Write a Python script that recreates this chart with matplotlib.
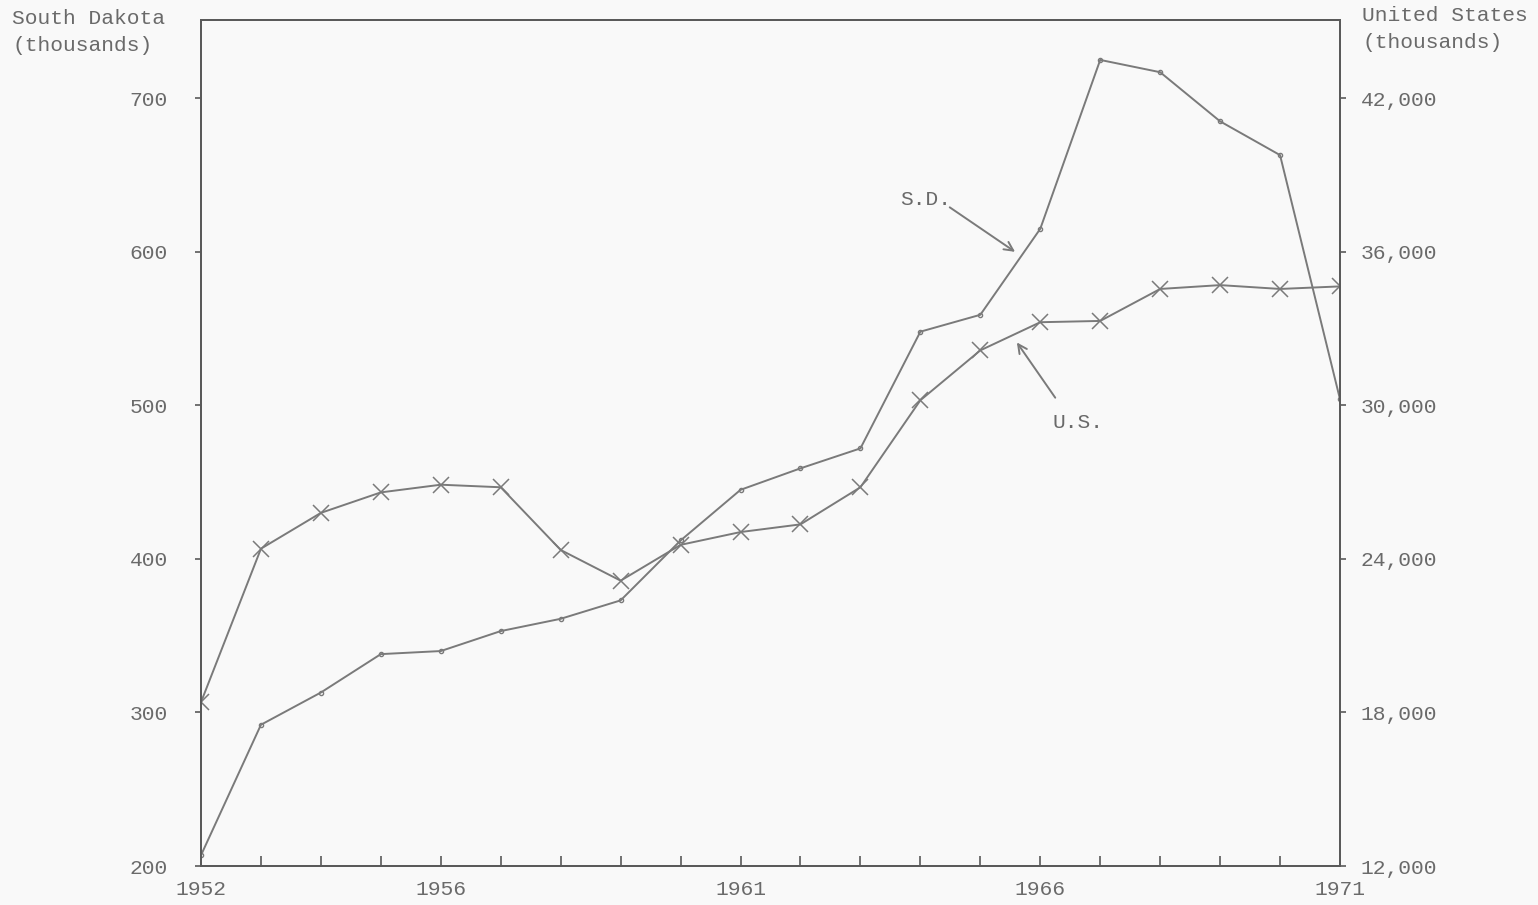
import matplotlib
matplotlib.use("Agg")
import matplotlib.pyplot as plt

years = list(range(1952, 1972))
sd_values = [207, 292, 313, 338, 340, 353, 361, 373, 412, 445, 459, 472,
             548, 559, 615, 725, 717, 685, 663, 504]
us_values = [18400, 24400, 25800, 26600, 26900, 26800, 24350, 23150, 24550,
             25050, 25350, 26800, 30200, 32150, 33250, 33300, 34550, 34700,
             34550, 34650]
left_ticks = [200, 300, 400, 500, 600, 700]
right_ticks = [12000, 18000, 24000, 30000, 36000, 42000]
right_labels = ["12,000", "18,000", "24,000", "30,000", "36,000", "42,000"]
x_label_years = [1952, 1956, 1961, 1966, 1971]

FONT = "Liberation Mono"
TXT = "#6a6a6a"
LINE = "#7a7a7a"
SPINE = "#5a5a5a"
FS = 15.3

fig = plt.figure(figsize=(15.38, 9.05), dpi=100, facecolor="#f9f9f9")
ax = fig.add_axes([201/1538, 1-866/905, (1340-201)/1538, (866-20)/905])
ax.set_facecolor("#f9f9f9")
ax2 = ax.twinx()

ax.plot(years, sd_values, color=LINE, lw=1.4, marker="o", ms=3,
        mfc="none", mec=LINE, mew=1)
ax2.plot(years, us_values, color=LINE, lw=1.4, marker="x", ms=11, mew=1.1)

ylo, yhi = 200, 751
ax.set_ylim(ylo, yhi)
ax2.set_ylim(12000 + (ylo-200)*60, 12000 + (yhi-200)*60)
ax.set_xlim(1952, 1971)

ax.set_xticks(years)
ax.set_xticklabels([str(y) if y in x_label_years else "" for y in years],
                   fontfamily=FONT, fontsize=FS, color=TXT)
ax.tick_params(axis="x", direction="in", length=7, width=1.2, color=SPINE, pad=10)
ax.set_yticks(left_ticks)
ax.set_yticklabels([str(v) for v in left_ticks], fontfamily=FONT, fontsize=FS, color=TXT)
ax.tick_params(axis="y", direction="out", length=4, width=1.2, color=SPINE, pad=20)
ax2.set_yticks(right_ticks)
ax2.set_yticklabels(right_labels, fontfamily=FONT, fontsize=FS, color=TXT)
ax2.tick_params(axis="y", direction="out", length=4, width=1.2, color=SPINE, pad=11)

for a in (ax, ax2):
    for s in a.spines.values():
        s.set_color(SPINE)
        s.set_linewidth(1.4)

fig.text(12/1538, 1-32/905, "South Dakota\n(thousands)", fontfamily=FONT,
         fontsize=FS, color=TXT, ha="left", va="center", linespacing=1.5)
fig.text(1362/1538, 1-29/905, "United States\n(thousands)", fontfamily=FONT,
         fontsize=FS, color=TXT, ha="left", va="center", linespacing=1.5)

ax.text(1963.66, 634, "S.D.", fontfamily=FONT, fontsize=FS, color=TXT,
        ha="left", va="center")
ax.annotate("", xy=(1965.58, 600), xytext=(1964.49, 629),
            arrowprops=dict(arrowstyle="->", color=LINE, lw=1.4,
                            shrinkA=0, shrinkB=0, mutation_scale=16))
ax.text(1966.21, 489, "U.S.", fontfamily=FONT, fontsize=FS, color=TXT,
        ha="left", va="center")
ax.annotate("", xy=(1965.61, 541), xytext=(1966.25, 505),
            arrowprops=dict(arrowstyle="->", color=LINE, lw=1.4,
                            shrinkA=0, shrinkB=0, mutation_scale=16))

fig.savefig("out.png", dpi=100, facecolor=fig.get_facecolor())
